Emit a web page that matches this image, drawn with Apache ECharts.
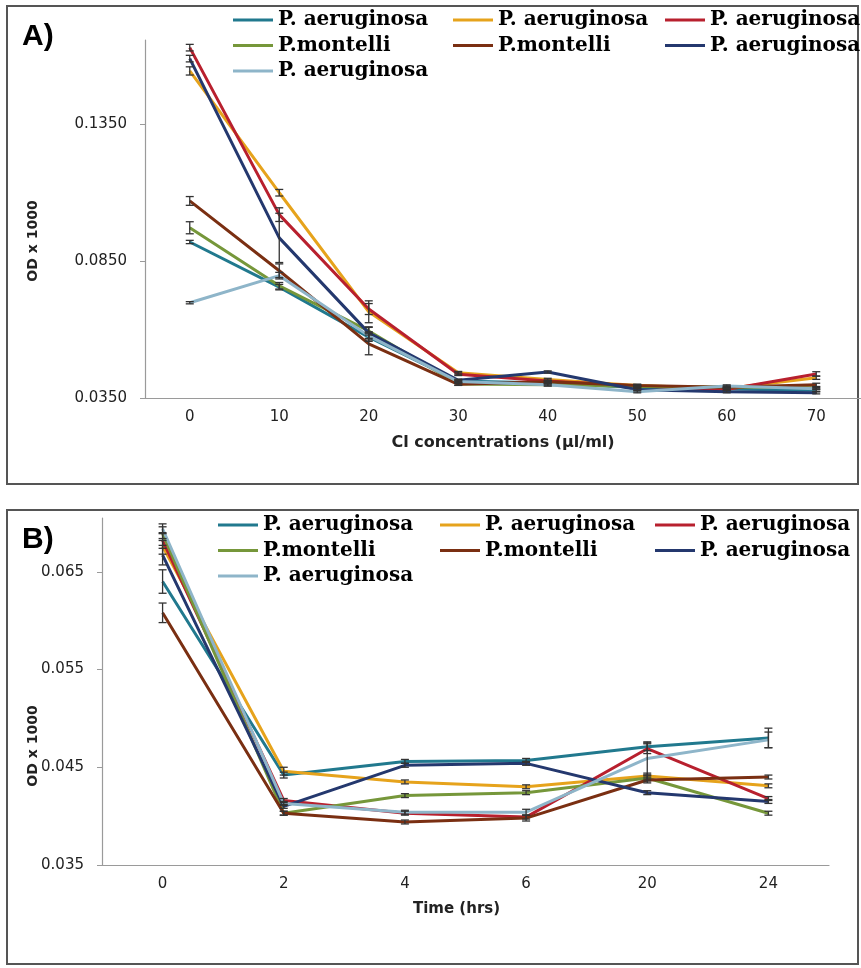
<!DOCTYPE html>
<html>
<head>
<meta charset="utf-8">
<script src="https://cdn.jsdelivr.net/npm/echarts@6/dist/echarts.min.js"></script>
<style>
html, body { margin: 0; padding: 0; background: #fff; }
#chart { width: 861px; height: 968px; }
</style>
</head>
<body>
<div id="chart"></div>
<script>
// ---- panel A: OD vs Cl concentration ----
const concA = ['0', '10', '20', '30', '40', '50', '60', '70'];
const yTicksA = [0.035, 0.085, 0.135];
const aTeal   = [0.0920, 0.0755, 0.0572, 0.0412, 0.0405, 0.0388, 0.0383, 0.0378];
const aOrange = [0.1545, 0.1100, 0.0665, 0.0442, 0.0418, 0.0396, 0.0385, 0.0424];
const aRed    = [0.1630, 0.1020, 0.0675, 0.0437, 0.0412, 0.0394, 0.0381, 0.0438];
const aGreen  = [0.0972, 0.0760, 0.0595, 0.0401, 0.0398, 0.0392, 0.0390, 0.0387];
const aBrown  = [0.1070, 0.0815, 0.0548, 0.0400, 0.0409, 0.0396, 0.0389, 0.0398];
const aNavy   = [0.1590, 0.0935, 0.0588, 0.0415, 0.0445, 0.0380, 0.0373, 0.0369];
const aLight  = [0.0698, 0.0797, 0.0577, 0.0410, 0.0398, 0.0373, 0.0394, 0.0384];
const aTealErr   = [0.0006, 0.0010, 0.0015, 0.0004, 0.0004, 0.0004, 0.0004, 0.0005];
const aOrangeErr = [0.0015, 0.0012, 0.0040, 0.0005, 0.0004, 0.0004, 0.0004, 0.0006];
const aRedErr    = [0.0012, 0.0025, 0.0020, 0.0005, 0.0004, 0.0004, 0.0004, 0.0008];
const aGreenErr  = [0.0022, 0.0012, 0.0015, 0.0004, 0.0004, 0.0004, 0.0004, 0.0004];
const aBrownErr  = [0.0016, 0.0025, 0.0040, 0.0004, 0.0004, 0.0004, 0.0004, 0.0006];
const aNavyErr   = [0.0012, 0.0090, 0.0020, 0.0004, 0.0004, 0.0004, 0.0004, 0.0004];
const aLightErr  = [0.0004, 0.0012, 0.0015, 0.0004, 0.0004, 0.0004, 0.0004, 0.0004];

// ---- panel B: OD vs time ----
const timeB = ['0', '2', '4', '6', '20', '24'];
const yTicksB = [0.035, 0.045, 0.055, 0.065];
const bTeal   = [0.0640, 0.0442, 0.0456, 0.0457, 0.0471, 0.0480];
const bOrange = [0.0676, 0.0446, 0.0435, 0.0430, 0.0441, 0.0431];
const bRed    = [0.0682, 0.0416, 0.0403, 0.0399, 0.0469, 0.0418];
const bGreen  = [0.0689, 0.0403, 0.0421, 0.0424, 0.0439, 0.0403];
const bBrown  = [0.0608, 0.0403, 0.0394, 0.0398, 0.0437, 0.0440];
const bNavy   = [0.0667, 0.0410, 0.0452, 0.0454, 0.0424, 0.0415];
const bLight  = [0.0694, 0.0413, 0.0404, 0.0404, 0.0459, 0.0478];
const bTealErr   = [0.0012, 0.0003, 0.0002, 0.0002, 0.0004, 0.0010];
const bOrangeErr = [0.0008, 0.0004, 0.0002, 0.0002, 0.0003, 0.0002];
const bRedErr    = [0.0008, 0.0002, 0.0002, 0.0002, 0.0005, 0.0002];
const bGreenErr  = [0.0007, 0.0002, 0.0002, 0.0002, 0.0003, 0.0002];
const bBrownErr  = [0.0010, 0.0002, 0.0002, 0.0003, 0.0003, 0.0002];
const bNavyErr   = [0.0010, 0.0002, 0.0002, 0.0002, 0.0002, 0.0002];
const bLightErr  = [0.0005, 0.0002, 0.0002, 0.0003, 0.0017, 0.0008];

const colors = ['#21798e', '#e6a31c', '#b8202e', '#76973a', '#7a2f12', '#24386e', '#8eb5c9'];
const labels = ['P. aeruginosa', 'P. aeruginosa', 'P. aeruginosa', 'P.montelli',
                'P.montelli', 'P. aeruginosa', 'P. aeruginosa'];

const seriesA = [aTeal, aOrange, aRed, aGreen, aBrown, aNavy, aLight];
const errA = [aTealErr, aOrangeErr, aRedErr, aGreenErr, aBrownErr, aNavyErr, aLightErr];
const seriesB = [bTeal, bOrange, bRed, bGreen, bBrown, bNavy, bLight];
const errB = [bTealErr, bOrangeErr, bRedErr, bGreenErr, bBrownErr, bNavyErr, bLightErr];

// names must be unique for the legend, formatter shows the real label
const nameOf = (p, i) => p + (i + 1);
const legendFmt = name => labels[parseInt(name.slice(1)) - 1];

function renderErr (params, api) {
  const i = api.value(0);
  const lo = api.coord([i, api.value(1)]);
  const hi = api.coord([i, api.value(2)]);
  const c = 4;
  const st = { stroke: '#333', lineWidth: 1.3 };
  return {
    type: 'group',
    children: [
      { type: 'line', shape: { x1: lo[0], y1: lo[1], x2: hi[0], y2: hi[1] }, style: st },
      { type: 'line', shape: { x1: lo[0] - c, y1: lo[1], x2: lo[0] + c, y2: lo[1] }, style: st },
      { type: 'line', shape: { x1: hi[0] - c, y1: hi[1], x2: hi[0] + c, y2: hi[1] }, style: st }
    ]
  };
}

let series = [];
function addPanel (prefix, vals, errs, idx) {
  vals.forEach((v, k) => {
    series.push({
      name: nameOf(prefix, k),
      type: 'line',
      xAxisIndex: idx,
      yAxisIndex: idx,
      data: v,
      symbol: 'none',
      color: colors[k],
      lineStyle: { width: 3, color: colors[k] },
      z: 2
    });
  });
  errs.forEach((e, k) => {
    series.push({
      type: 'custom',
      xAxisIndex: idx,
      yAxisIndex: idx,
      renderItem: renderErr,
      data: vals[k].map((y, i) => [i, y - e[i], y + e[i]]),
      encode: { x: 0, y: [1, 2] },
      silent: true,
      z: 3
    });
  });
}
addPanel('A', seriesA, errA, 0);
addPanel('B', seriesB, errB, 1);

const legendText = { fontFamily: 'DejaVu Serif', fontWeight: 'bold', fontSize: 20, color: '#000' };
function legendCol (prefix, ids, left, top) {
  return {
    orient: 'vertical',
    left: left,
    top: top,
    padding: 0,
    itemWidth: 40,
    itemHeight: 3,
    itemGap: 3.5,
    icon: 'rect',
    selectedMode: false,
    formatter: legendFmt,
    textStyle: Object.assign({ lineHeight: 22 }, legendText),
    data: ids.map(i => nameOf(prefix, i))
  };
}

const tickFont = { fontFamily: 'DejaVu Sans', fontSize: 15, color: '#222' };
const nameFont = { fontFamily: 'DejaVu Sans', fontWeight: 'bold', fontSize: 16, color: '#222' };
const axisLine = { lineStyle: { color: '#9a9a9a', width: 1.2 } };
const axisTick = { length: 5, lineStyle: { color: '#9a9a9a' } };

const chart = echarts.init(document.getElementById('chart'));
chart.setOption({
  animation: false,
  grid: [
    { left: 145, top: 40, width: 716, height: 358 },
    { left: 102, top: 518, width: 727, height: 347 }
  ],
  xAxis: [
    {
      type: 'category', gridIndex: 0, data: concA, boundaryGap: true,
      name: 'Cl concentrations (µl/ml)', nameLocation: 'middle', nameGap: 37,
      nameTextStyle: nameFont,
      axisLine: axisLine, axisTick: axisTick,
      axisLabel: Object.assign({ margin: 12 }, tickFont)
    },
    {
      type: 'category', gridIndex: 1, data: timeB, boundaryGap: true,
      name: 'Time (hrs)', nameLocation: 'middle', nameGap: 37,
      nameTextStyle: Object.assign({ fontSize: 15, padding: [0, 18, 0, 0] }, { fontFamily: 'DejaVu Sans', fontWeight: 'bold', color: '#222' }),
      axisLine: axisLine, axisTick: axisTick,
      axisLabel: Object.assign({ margin: 12 }, tickFont)
    }
  ],
  yAxis: [
    {
      type: 'value', gridIndex: 0, min: 0.035, max: 0.1658,
      splitLine: { show: false },
      axisLine: Object.assign({ show: true }, axisLine),
      axisTick: Object.assign({ show: true, customValues: yTicksA }, axisTick),
      axisLabel: Object.assign({ customValues: yTicksA, margin: 18, formatter: v => v.toFixed(4) }, tickFont)
    },
    {
      type: 'value', gridIndex: 1, min: 0.035, max: 0.0705,
      splitLine: { show: false },
      axisLine: Object.assign({ show: true }, axisLine),
      axisTick: Object.assign({ show: true, customValues: yTicksB }, axisTick),
      axisLabel: Object.assign({ customValues: yTicksB, margin: 18, formatter: v => v.toFixed(3) }, tickFont)
    }
  ],
  legend: [
    legendCol('A', [0, 3, 6], 233, 9),
    legendCol('A', [1, 4], 453, 9),
    legendCol('A', [2, 5], 665, 9),
    legendCol('B', [0, 3, 6], 218, 514),
    legendCol('B', [1, 4], 440, 514),
    legendCol('B', [2, 5], 655, 514)
  ],
  graphic: [
    { type: 'rect', shape: { x: 7, y: 6, width: 851, height: 478 },
      style: { fill: 'none', stroke: '#555', lineWidth: 2 }, silent: true },
    { type: 'rect', shape: { x: 7, y: 510, width: 851, height: 454 },
      style: { fill: 'none', stroke: '#555', lineWidth: 2 }, silent: true },
    { type: 'text', left: 22, top: 22,
      style: { text: 'A)', font: 'bold 30px "Liberation Sans"', fill: '#000' } },
    { type: 'text', left: 22, top: 525,
      style: { text: 'B)', font: 'bold 30px "Liberation Sans"', fill: '#000' } },
    { type: 'text', x: 33, y: 241, rotation: Math.PI / 2,
      style: { text: 'OD x 1000', font: 'bold 14px "DejaVu Sans"', fill: '#222', align: 'center', verticalAlign: 'middle' } },
    { type: 'text', x: 33, y: 746, rotation: Math.PI / 2,
      style: { text: 'OD x 1000', font: 'bold 14px "DejaVu Sans"', fill: '#222', align: 'center', verticalAlign: 'middle' } }
  ],
  series: series
});
</script>
</body>
</html>
